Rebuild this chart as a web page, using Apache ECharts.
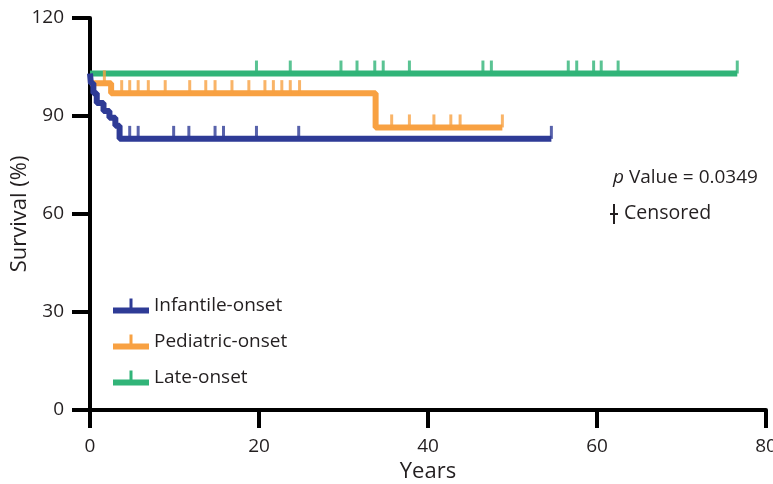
<!DOCTYPE html>
<html>
<head>
<meta charset="utf-8">
<script src="https://cdn.jsdelivr.net/npm/echarts@6/dist/echarts.min.js"></script>
<style>
  html, body { margin: 0; padding: 0; background: #fff; }
  #chart { width: 773px; height: 484px; }
</style>
</head>
<body>
<div id="chart"></div>
<script>
// survival steps: [years, survival %] (value after each event)
const infantileSteps = [[0, 103], [0.1, 100], [0.4, 97], [0.8, 94], [1.6, 91.5], [2.3, 89.5], [3.0, 87], [3.5, 83], [54.6, 83]]
const pediatricSteps = [[0, 100], [2.5, 97], [33.8, 86.5], [48.8, 86.5]]
const lateSteps = [[0, 103], [76.6, 103]]

// censored times (years)
const infantileCensored = [4.7, 5.7, 9.9, 11.7, 14.8, 15.8, 19.7, 24.7, 54.6]
const pediatricCensored = [1.7, 3.75, 4.7, 5.7, 6.9, 8.9, 11.8, 13.7, 14.8, 16.8, 18.8, 20.7, 21.7, 22.7, 23.7, 24.8, 35.7, 37.8, 40.7, 42.7, 43.8, 48.8]
const lateCensored = [19.7, 23.7, 29.7, 31.6, 33.7, 34.7, 37.8, 46.5, 47.5, 56.6, 57.6, 59.6, 60.5, 62.5, 76.6]

const groupNames = ['Infantile-onset', 'Pediatric-onset', 'Late-onset']
const colorArr = ['#2e3b96', '#f8a142', '#31b478']

const xTicks = [0, 80, 20]
const yTicks = [0, 120, 30]

// survival level in force at time t
function survivalAt(steps, t) {
  let v = steps[0][1]
  steps.forEach(p => { if (p[0] <= t) v = p[1] })
  return v
}

const stepsArr = [infantileSteps, pediatricSteps, lateSteps]
const censArr = [infantileCensored, pediatricCensored, lateCensored]
const zArr = [6, 4, 3]

const lineSeries = stepsArr.map((steps, i) => ({
  name: groupNames[i],
  type: 'line',
  step: 'end',
  data: steps,
  showSymbol: false,
  z: zArr[i],
  lineStyle: { color: colorArr[i], width: 6 },
  itemStyle: { color: colorArr[i] },
  animation: false
}))

const censorSeries = censArr.map((times, i) => ({
  name: groupNames[i] + ' censored',
  type: 'scatter',
  data: times.map(t => [t, survivalAt(stepsArr[i], t)]),
  symbol: 'rect',
  symbolSize: [3, 13],
  symbolOffset: [0, -6.5],
  z: zArr[i],
  itemStyle: { color: colorArr[i] },
  animation: false
}))

const legendIcon = 'path://M0,9H36V15H0Z M16.5,0H19.5V9H16.5Z'

const chart = echarts.init(document.getElementById('chart'))
chart.setOption({
  animation: false,
  textStyle: { fontFamily: 'Open Sans' },
  grid: { left: 90, right: 7, top: 18, bottom: 74, containLabel: false, outerBoundsMode: 'none' },
  xAxis: {
    type: 'value',
    min: xTicks[0], max: xTicks[1], interval: xTicks[2],
    name: 'Years',
    nameLocation: 'middle',
    nameGap: 49,
    nameTextStyle: { fontSize: 22, color: '#231f20', fontFamily: 'Open Sans' },
    axisLine: { show: true, lineStyle: { color: '#000', width: 4 } },
    axisTick: { show: true, length: 18, lineStyle: { color: '#000', width: 4 } },
    axisLabel: { fontSize: 19, color: '#231f20', margin: 27, fontFamily: 'Open Sans' },
    splitLine: { show: false }
  },
  yAxis: {
    type: 'value',
    min: yTicks[0], max: yTicks[1], interval: yTicks[2],
    name: 'Survival (%)',
    nameLocation: 'middle',
    nameGap: 59,
    nameMoveOverlap: false,
    nameTextStyle: { fontSize: 22, color: '#231f20', fontFamily: 'Open Sans' },
    axisLine: { show: true, lineStyle: { color: '#000', width: 4 } },
    axisTick: { show: true, length: 18, lineStyle: { color: '#000', width: 4 } },
    axisLabel: { fontSize: 19, color: '#231f20', margin: 26, fontFamily: 'Open Sans' },
    splitLine: { show: false }
  },
  legend: {
    orient: 'vertical',
    left: 108,
    top: 290,
    itemWidth: 36,
    itemHeight: 15,
    itemGap: 14,
    textStyle: { fontSize: 19, color: '#231f20', lineHeight: 22, fontFamily: 'Open Sans' },
    data: groupNames.map(n => ({ name: n, icon: legendIcon }))
  },
  graphic: [
    {
      type: 'text',
      left: 613,
      top: 168,
      style: {
        text: '{i|p}{n| Value = 0.0349}',
        rich: {
          i: { fontStyle: 'italic', fontSize: 19, fontFamily: 'Open Sans', fill: '#231f20' },
          n: { fontSize: 19, fontFamily: 'Open Sans', fill: '#231f20' }
        }
      }
    },
    { type: 'rect', shape: { x: 613, y: 204, width: 2, height: 20 }, style: { fill: '#231f20' } },
    { type: 'rect', shape: { x: 610, y: 213, width: 8, height: 2 }, style: { fill: '#231f20' } },
    {
      type: 'text',
      left: 624,
      top: 203,
      style: { text: 'Censored', fontSize: 19.5, fontFamily: 'Open Sans', fill: '#231f20' }
    }
  ],
  series: lineSeries.concat(censorSeries)
})
</script>
</body>
</html>
